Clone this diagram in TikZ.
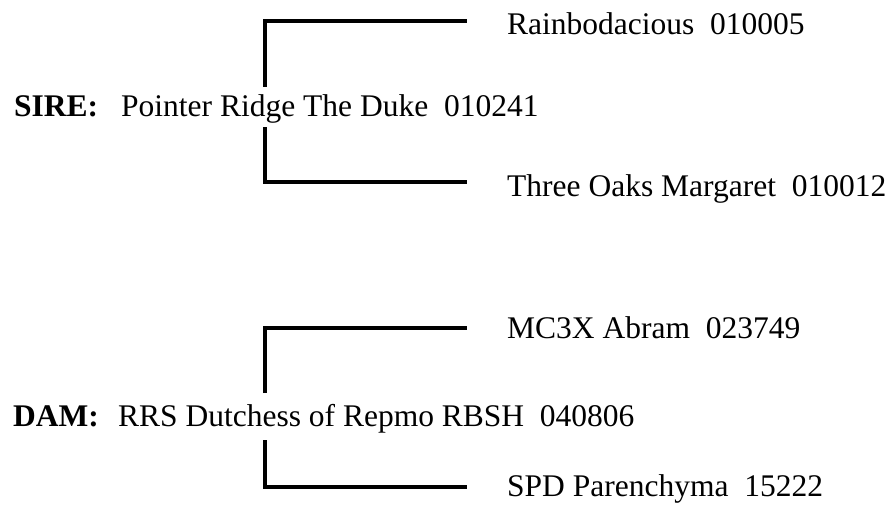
\documentclass[tikz,border=0pt]{standalone}
\usepackage{fontspec}
\setmainfont{Liberation Serif}
\begin{document}
\begin{tikzpicture}[x=1pt,y=-1pt,
  lbl/.style={anchor=base west,inner sep=0pt,font=\fontsize{31.5}{38}\selectfont},
  role/.style={lbl,font=\fontsize{31.5}{38}\selectfont\bfseries},
  bracket/.style={line width=4pt,line cap=butt,line join=miter}]
\useasboundingbox (0,0) rectangle (890,508);
% sire group
\node[role] (sirelbl) at (14,116) {SIRE:};
\node[lbl] (sire) at (121,116) {Pointer Ridge The Duke\ \ 010241};
\node[lbl] (rain) at (507,35) {Rainbodacious\ \ 010005};
\node[lbl] (three) at (507,196) {Three Oaks Margaret\ \ 010012};
\coordinate (sire-up) at (265,87);
\coordinate (sire-dn) at (265,127);
\coordinate (rain-end) at (467,21);
\coordinate (three-end) at (467,182);
\draw[bracket] (sire-up) |- (rain-end);
\draw[bracket] (sire-dn) |- (three-end);
% dam group
\node[role] (damlbl) at (13,426) {DAM:};
\node[lbl] (dam) at (118,426) {RRS Dutchess of Repmo RBSH\ \ 040806};
\node[lbl] (mc) at (507,338) {MC3X Abram\ \ 023749};
\node[lbl] (spd) at (507,496) {SPD Parenchyma\ \ 15222};
\coordinate (dam-up) at (265,393);
\coordinate (dam-dn) at (265,440);
\coordinate (mc-end) at (467,328);
\coordinate (spd-end) at (467,487);
\draw[bracket] (dam-up) |- (mc-end);
\draw[bracket] (dam-dn) |- (spd-end);
\end{tikzpicture}
\end{document}
